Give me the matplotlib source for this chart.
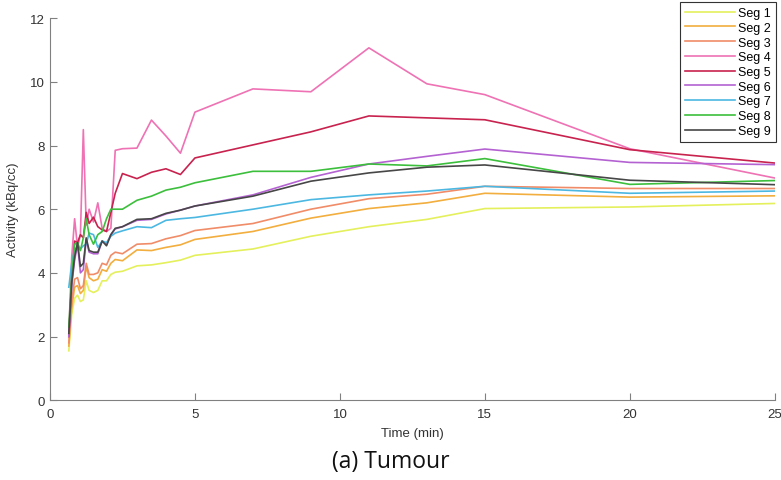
import numpy as np
import matplotlib.pyplot as plt

plt.rcParams['font.family'] = ['Liberation Sans', 'DejaVu Sans']

# Frame mid-times (min)
time_min = [0.65, 0.75, 0.85, 0.95, 1.05, 1.15, 1.25, 1.35, 1.5, 1.65, 1.8, 1.95, 2.1,
            2.25, 2.5, 3.0, 3.5, 4.0, 4.5, 5, 7, 9, 11, 13, 15, 20, 25]

# Segment activity curves (kBq/cc)
seg1 = [1.55, 2.7, 3.2, 3.3, 3.1, 3.15, 3.75, 3.45, 3.38, 3.45, 3.75, 3.75, 3.95,
        4.02, 4.05, 4.22, 4.25, 4.32, 4.4, 4.55, 4.75, 5.15, 5.45, 5.68, 6.02, 6.07, 6.18]
seg2 = [1.7, 2.9, 3.55, 3.6, 3.35, 3.45, 4.2, 3.85, 3.75, 3.8, 4.1, 4.05, 4.3,
        4.42, 4.38, 4.72, 4.7, 4.8, 4.88, 5.05, 5.3, 5.72, 6.02, 6.2, 6.5, 6.38, 6.42]
seg3 = [1.8, 3.1, 3.8, 3.85, 3.5, 3.6, 4.3, 3.95, 3.95, 4.0, 4.3, 4.25, 4.55,
        4.65, 4.6, 4.9, 4.92, 5.07, 5.17, 5.33, 5.55, 6.0, 6.33, 6.47, 6.72, 6.65, 6.65]
seg4 = [2.1, 4.5, 5.7, 4.8, 5.2, 8.5, 5.5, 6.0, 5.6, 6.2, 5.4, 5.3, 5.4,
        7.85, 7.9, 7.92, 8.8, 8.3, 7.76, 9.05, 9.78, 9.69, 11.07, 9.94, 9.6, 7.9, 6.98]
seg5 = [2.0, 3.8, 5.0, 4.95, 5.2, 5.1, 5.9, 5.55, 5.75, 5.45, 5.35, 5.3, 5.9,
        6.5, 7.12, 6.96, 7.16, 7.27, 7.09, 7.61, 8.02, 8.43, 8.93, 8.87, 8.81, 7.87, 7.45]
seg6 = [2.0, 3.6, 4.4, 4.9, 4.0, 4.1, 5.05, 4.65, 4.6, 4.6, 5.0, 4.9, 5.2,
        5.38, 5.45, 5.65, 5.68, 5.85, 5.97, 6.1, 6.45, 7.0, 7.42, 7.66, 7.89, 7.47, 7.4]
seg7 = [3.55, 4.3, 4.75, 4.8, 4.75, 4.85, 4.9, 5.25, 5.2, 4.8, 5.0, 4.95, 5.15,
        5.25, 5.32, 5.45, 5.42, 5.65, 5.7, 5.74, 6.0, 6.3, 6.45, 6.57, 6.72, 6.5, 6.57]
seg8 = [2.3, 3.9, 4.9, 4.95, 4.7, 5.1, 5.7, 5.2, 4.9, 5.2, 5.3, 5.7, 6.0,
        6.0, 6.0, 6.28, 6.41, 6.6, 6.69, 6.83, 7.19, 7.19, 7.42, 7.36, 7.59, 6.78, 6.9]
seg9 = [2.1, 3.7, 4.5, 4.95, 4.2, 4.3, 5.1, 4.7, 4.65, 4.65, 5.0, 4.85, 5.2,
        5.4, 5.45, 5.68, 5.7, 5.87, 5.97, 6.1, 6.41, 6.88, 7.14, 7.32, 7.39, 6.91, 6.77]

segments = [seg1, seg2, seg3, seg4, seg5, seg6, seg7, seg8, seg9]
labels = ['Seg %d' % (i + 1) for i in range(9)]
colors = ['#e4f05c', '#f2ae3e', '#f08c68', '#ee72b4', '#c8234f',
          '#b462d2', '#4cb8e2', '#3cbf3c', '#474747']

fig = plt.figure(figsize=(7.81, 4.81), dpi=100)
ax = fig.add_axes([0.064, 0.166, 0.928, 0.794])

for vals, lab, col in zip(segments, labels, colors):
    ax.plot(time_min, vals, color=col, lw=1.2, label=lab)

ax.set_xlim(0, 25)
ax.set_ylim(0, 12)
ax.set_xticks([0, 5, 10, 15, 20, 25])
ax.set_yticks([0, 2, 4, 6, 8, 10, 12])
ax.tick_params(direction='in', length=5, width=0.8, colors='#808080',
               labelcolor='#333333', labelsize=9.5)
ax.tick_params(axis='x', pad=6)
for side in ['top', 'right']:
    ax.spines[side].set_visible(False)
for side in ['left', 'bottom']:
    ax.spines[side].set_color('#808080')
    ax.spines[side].set_linewidth(0.8)

ax.set_xlabel('Time (min)', fontsize=9.5, color='#333333', labelpad=5)
ax.set_ylabel('Activity (kBq/cc)', fontsize=9.5, color='#333333', labelpad=8)

leg = ax.legend(loc='upper right', bbox_to_anchor=(776 / 781, 1 - 3 / 481),
                bbox_transform=fig.transFigure, fontsize=9, fancybox=False,
                framealpha=1, edgecolor='#333333', handlelength=4.0,
                labelspacing=0.22, borderpad=0.4, handletextpad=0.3,
                borderaxespad=0)
leg.get_frame().set_linewidth(0.8)

fig.text(0.5, 0.04, '(a) Tumour', ha='center', va='center', fontsize=16.5,
         family=['Open Sans', 'DejaVu Sans'], color='#111111')

fig.savefig('out.png', dpi=100)
